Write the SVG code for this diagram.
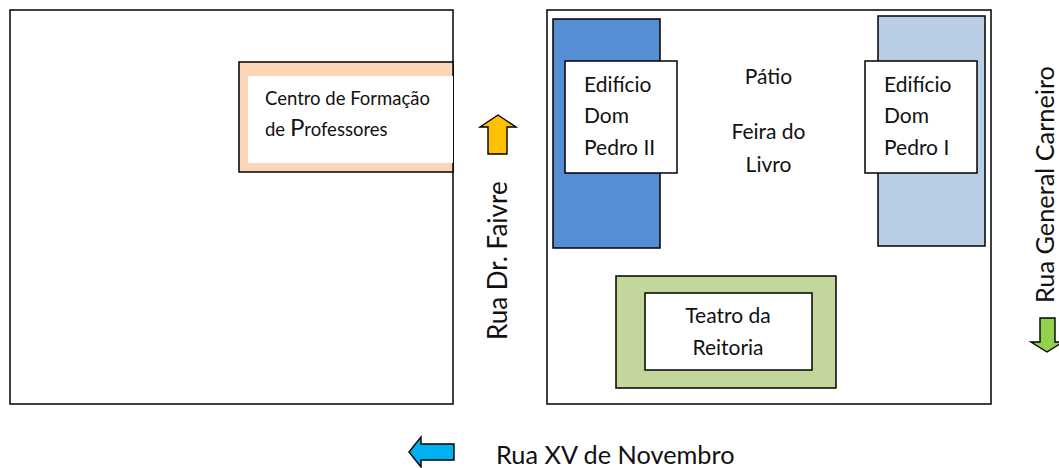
<svg xmlns="http://www.w3.org/2000/svg" width="1059" height="468" viewBox="0 0 1059 468">
<style>
.b{stroke:#000;stroke-width:1.5}
.a{stroke:#000;stroke-width:1.4}
text{font-family:"Lato","Noto Sans",sans-serif;font-size:21px;fill:#111;text-anchor:start}
.m{text-anchor:middle}
.s{font-size:18.5px}
.r{font-size:25.3px}
</style>
<rect width="1059" height="468" fill="#fff"/>
<g id="terreno-esquerdo"><rect class="b" x="10" y="10" width="443" height="394" fill="#fff"/></g>
<g id="centro-formacao"><rect x="239" y="62" width="214" height="110" fill="#fbd5b5" class="b"/><rect x="248" y="76" width="205" height="87" fill="#fff"/>
<text class="s" x="265" y="105">Centro de Formação</text><text class="s" x="265" y="136">de <tspan font-size="24">P</tspan>rofessores</text></g>
<g id="terreno-direito"><rect class="b" x="547" y="10" width="444" height="394" fill="#fff"/></g>
<g id="edificio-pedro-ii"><rect class="b" x="553" y="19" width="107" height="229" fill="#558ed5"/><rect class="b" x="565" y="61" width="112" height="112" fill="#fff"/>
<text x="584" y="92">Edifício</text><text x="584" y="123">Dom</text><text x="584" y="155">Pedro II</text></g>
<g id="edificio-pedro-i"><rect class="b" x="878" y="16" width="107" height="230" fill="#b9cde5"/><rect class="b" x="865" y="61" width="112" height="112" fill="#fff"/>
<text x="884" y="92">Edifício</text><text x="884" y="123">Dom</text><text x="884" y="155">Pedro I</text></g>
<g id="patio"><text class="m" x="768.5" y="84">Pátio</text><text class="m" x="768.5" y="139">Feira do</text><text class="m" x="768.5" y="172">Livro</text></g>
<g id="teatro"><rect class="b" x="616" y="276" width="220" height="112" fill="#c3d69b"/><rect class="b" x="645" y="293" width="167" height="77" fill="#fff"/>
<text class="m" x="728" y="323">Teatro da</text><text class="m" x="728" y="355">Reitoria</text></g>
<g id="conectores">
<path class="a" d="M498 115 L516 127 H507 V154 H488 V127 H480 Z" fill="#ffc000"/>
<path class="a" d="M1040 318 H1055 V342 H1063 L1047 352 L1031 342 H1040 Z" fill="#92d050"/>
<path class="a" d="M409 452 L421 437 V444 H454 V460 H421 V467 Z" fill="#00b0f0"/>
</g>
<g id="ruas">
<text class="r" transform="translate(507,340) rotate(-90)" style="font-size:26px">Rua Dr. Faivre</text>
<text class="r" transform="translate(1054,303) rotate(-90)">Rua General Carneiro</text>
<text class="r" x="496" y="464">Rua XV de Novembro</text>
</g>
</svg>
